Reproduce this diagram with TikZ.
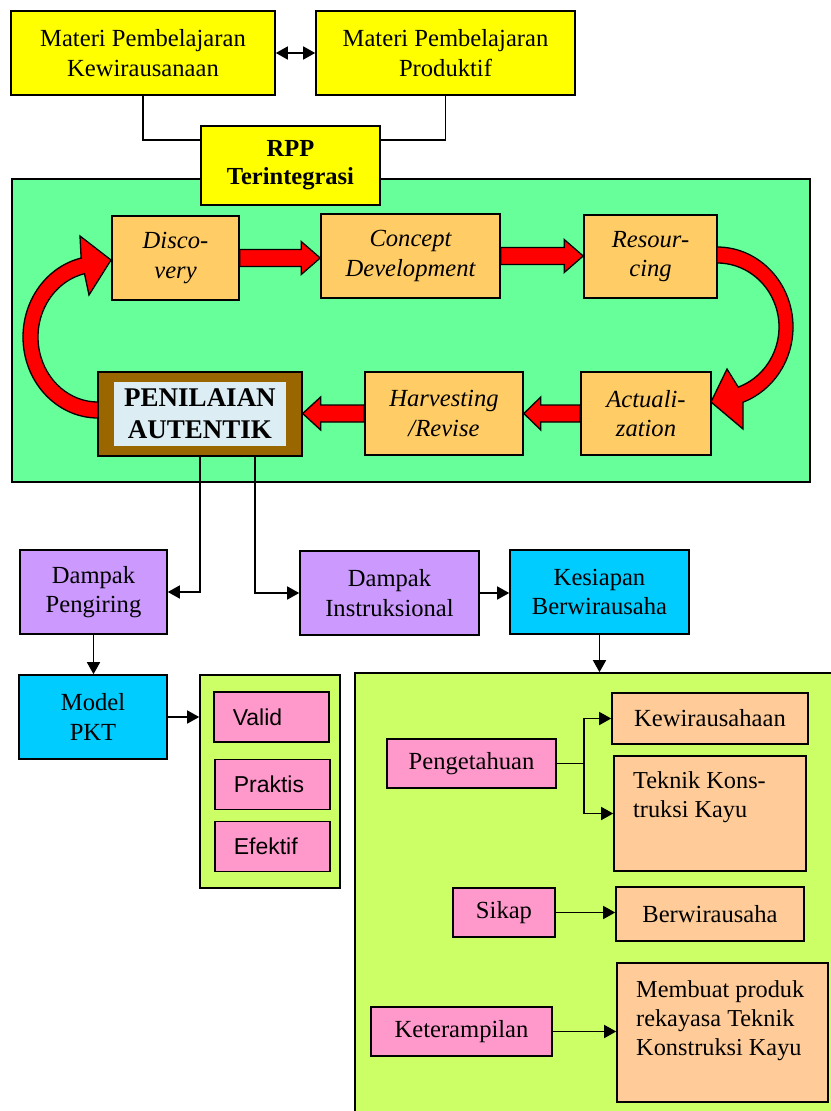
\documentclass[tikz,border=0pt]{standalone}
\usepackage{fontspec}
\setmainfont{Liberation Serif}
\newfontfamily\arialf{Liberation Sans}
\usetikzlibrary{calc,arrows.meta}
\definecolor{yel}{HTML}{FFFF00}
\definecolor{mint}{HTML}{66FF99}
\definecolor{org}{HTML}{FFCC66}
\definecolor{brn}{HTML}{996600}
\definecolor{ice}{HTML}{DCEEF4}
\definecolor{lav}{HTML}{CC99FF}
\definecolor{sky}{HTML}{00CCFF}
\definecolor{lime}{HTML}{CCFF66}
\definecolor{pnk}{HTML}{FF99CC}
\definecolor{pch}{HTML}{FFCC99}
\newcommand\blockarr[3]{\draw[redfill] let \p1=#1, \p2=#2 in
  (\x1,{\y1+8.5pt}) -- ({\x2-(#3)},{\y1+8.5pt}) -- ({\x2-(#3)},{\y1+16.5pt}) -- (\x2,\y1)
  -- ({\x2-(#3)},{\y1-16.5pt}) -- ({\x2-(#3)},{\y1-8.5pt}) -- (\x1,{\y1-8.5pt}) -- cycle;}
\begin{document}
\begin{tikzpicture}[x=1pt,y=-1pt,
  rect/.style n args={4}{at={({(#1+#3)/2},{(#2+#4)/2})}, anchor=center,
    minimum width={(#3-#1)*1pt}, minimum height={(#4-#2)*1pt}},
  bx/.style={draw=black, line width=1.6pt, inner sep=0pt, align=center,
    font=\fontsize{24.6}{29.5}\selectfont},
  pb/.style={bx, fill=org, font=\itshape\fontsize{24.6}{29.5}\selectfont},
  plainbox/.style={draw=black, line width=1.6pt, inner sep=0pt},
  txt/.style={inner sep=0pt, font=\fontsize{24.3}{29}\selectfont},
  sbx/.style={draw=black, line width=1.6pt, fill=pnk, minimum width=115pt, minimum height=50pt,
    text width=77pt, inner xsep=19pt, inner ysep=0pt, align=left, anchor=west,
    font=\arialf\fontsize{23}{28}\selectfont},
  conn/.style={draw=black, line width=1.5pt},
  arr/.style={-{Triangle[length=12pt,width=13pt]}},
  redfill/.style={fill=red, draw=black, line width=1.3pt, line join=miter}]
\fill[white] (0,0) rectangle (830,1111);
\useasboundingbox (0,0) rectangle (830,1111);

% process frame
\node[plainbox, fill=mint, rect={12}{179}{810}{482}] (frame) {};

% top
\node[bx, fill=yel, rect={11}{11}{275}{95}] (ma) {Materi Pembelajaran\\Kewirausanaan};
\node[bx, fill=yel, rect={316}{11}{575}{95}] (mb) {Materi Pembelajaran\\Produktif};
\node[bx, fill=yel, rect={201}{126}{380}{205}, font=\bfseries\fontsize{24.5}{28}\selectfont] (rpp) {RPP\\Terintegrasi};
\draw[conn, {Triangle[length=12pt,width=13pt]}-{Triangle[length=12pt,width=13pt]}] (ma.east) -- (mb.west);
\draw[conn] (ma.south) |- ($(rpp.north west)+(0,15)$);
\draw[conn] (mb.south) |- ($(rpp.north east)+(0,15)$);

% cycle boxes
\node[pb, rect={112}{216}{239}{300}] (disc) {Disco-\\very};
\node[pb, rect={321}{214}{500}{298}] (conc) {Concept\\Development};
\node[pb, rect={584}{215}{717}{298}] (res) {Resour-\\cing};
\node[pb, rect={581}{372}{711}{455}] (act) {Actuali-\\zation};
\node[pb, rect={365}{372}{523}{455}] (harv) {Harvesting\\/Revise};
\node[plainbox, line width=1.3pt, fill=brn, rect={98}{372}{302}{456}] (pen) {};
\node[fill=ice, inner sep=0pt, rect={114}{382}{286}{446}, align=center,
  font=\bfseries\fontsize{27}{32}\selectfont] (pent) {PENILAIAN\\AUTENTIK};

% block arrows
\blockarr{(disc.east)}{(conc.west)}{19pt}
\blockarr{(conc.east)}{(res.west)}{19pt}
\blockarr{(act.west)}{(harv.east)}{-17pt}
\blockarr{(harv.west)}{(pen.east)}{-18pt}

% curved arrows
\draw[redfill] (717,247) arc[start angle=-90, end angle=70, x radius=76, y radius=80]
  -- (743,429) -- (711,402) -- (727,369) -- (738.2,387.1)
  arc[start angle=70, end angle=-90, x radius=62, y radius=64] -- cycle;
\draw[redfill] (98,418) arc[start angle=90, end angle=257, x radius=75, y radius=81]
  -- (80,236) -- (111,260) -- (89,295) -- (84.5,273.7)
  arc[start angle=257, end angle=90, x radius=60, y radius=65] -- cycle;

% impacts
\node[bx, fill=lav, rect={20}{550}{167}{634}] (peng) {Dampak\\Pengiring};
\node[bx, fill=lav, rect={300}{551}{479}{635}] (instr) {Dampak\\Instruksional};
\node[bx, fill=sky, rect={510}{550}{689}{634}] (kes) {Kesiapan\\Berwirausaha};
\draw[conn, arr] (pen.south) |- (peng.east);
\draw[conn, arr] ($(pen.south)+(55,0)$) |- (instr.west);
\draw[conn, arr] (instr.east) -- (instr.east -| kes.west);

% model
\node[bx, fill=sky, rect={19}{675}{167}{759}] (model) {Model\\PKT};
\node[plainbox, fill=lime, rect={200}{675}{340}{888}] (sg) {};
\node[sbx] (val) at (213,717) {Valid};
\node[sbx] (prak) at (214,784.5) {Praktis};
\node[sbx] (efk) at (214,846.5) {Efektif};
\draw[conn, arr] (peng.south) -- (peng.south |- model.north);
\draw[conn, arr] (model.east) -- (model.east -| sg.west);

% readiness
\node[plainbox, fill=lime, rect={355}{673}{845}{1125}] (bg) {};
\draw[conn, arr] (kes.south) -- (kes.south |- bg.north);
\node[bx, fill=pnk, rect={387}{739}{556}{788}] (pg) {Pengetahuan};
\node[bx, fill=pch, rect={612}{693}{808}{744}] (kew) {Kewirausahaan};
\node[plainbox, fill=pch, rect={614}{756}{806}{871}] (tek) {};
\node[txt, anchor=north west, align=left] (tekt) at (633,771) {Teknik Kons-\\truksi Kayu};
\node[bx, fill=pnk, rect={453}{888}{555}{937}] (sik) {Sikap};
\node[bx, fill=pch, rect={616}{887}{804}{941}] (berw) {Berwirausaha};
\node[bx, fill=pnk, rect={371}{1007}{552}{1056}] (ket) {Keterampilan};
\node[plainbox, fill=pch, rect={617}{963}{828}{1102}] (mem) {};
\node[txt, anchor=north west, align=left] (memt) at (636,980) {Membuat produk\\rekayasa Teknik\\Konstruksi Kayu};

\coordinate (br) at ($(pg.east)+(27,0)$);
\draw[conn] (pg.east) -- (br);
\draw[conn, arr] (br) |- (kew.west);
\draw[conn, arr] (br) |- (tek.west);
\draw[conn, arr] (sik.east) -- (sik.east -| berw.west);
\draw[conn, arr] (ket.east) -- (ket.east -| mem.west);
\end{tikzpicture}
\end{document}
